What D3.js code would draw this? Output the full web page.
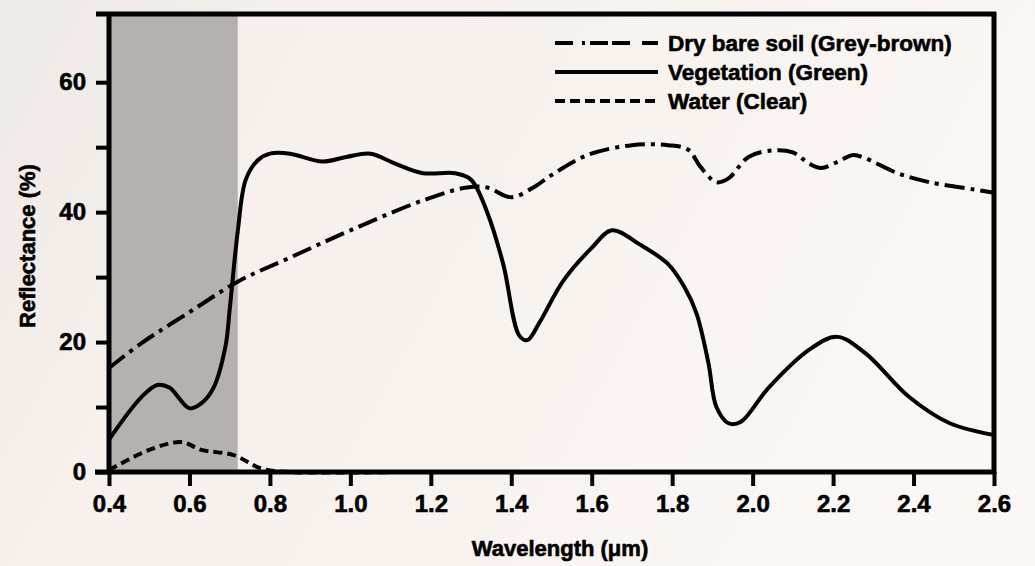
<!DOCTYPE html>
<html>
<head>
<meta charset="utf-8">
<script src="https://cdn.jsdelivr.net/npm/d3@7"></script>
<style>
  body { margin: 0; background: #f7f1ee; }
  text { font-family: "Liberation Sans", Arial, Helvetica, sans-serif; font-weight: bold; fill: #000; stroke: #000; stroke-width: 0.6px; }
</style>
</head>
<body>
<div id="wrapper"></div>
<script>
// DATA
const soilWavelength = [0.40, 0.48, 0.60, 0.72, 0.85, 1.00, 1.18, 1.29, 1.34, 1.40, 1.46, 1.50, 1.59, 1.70, 1.79, 1.84, 1.87, 1.91, 1.94, 1.99, 2.05, 2.10, 2.14, 2.17, 2.21, 2.25, 2.28, 2.36, 2.44, 2.55, 2.60]
const soilReflectance = [16, 19.8, 24.6, 29.3, 33, 37.2, 41.8, 43.8, 43.8, 42.3, 44, 45.7, 48.8, 50.3, 50.3, 49.6, 47, 44.6, 45.2, 48.5, 49.5, 49.2, 47.5, 46.8, 47.7, 48.8, 48.3, 46, 44.6, 43.5, 43]

const vegWavelength = [0.40, 0.48, 0.52, 0.55, 0.60, 0.63, 0.66, 0.69, 0.70, 0.72, 0.74, 0.77, 0.80, 0.85, 0.93, 0.99, 1.05, 1.11, 1.18, 1.26, 1.30, 1.34, 1.38, 1.42, 1.44, 1.47, 1.53, 1.60, 1.65, 1.72, 1.79, 1.83, 1.86, 1.89, 1.91, 1.94, 1.97, 2.04, 2.14, 2.21, 2.28, 2.39, 2.49, 2.60]
const vegReflectance = [5, 11.5, 13.4, 13, 9.8, 10.6, 13, 19.5, 25, 37, 45, 48, 49, 49, 47.8, 48.5, 49, 47.5, 46, 46, 45, 40, 32, 21, 20.3, 23, 29.5, 34.5, 37.2, 35, 32, 28.5, 24.5, 16.8, 10, 7.5, 7.7, 13, 18.8, 20.8, 18.3, 11.5, 7.5, 5.7]

const waterWavelength = [0.40, 0.50, 0.58, 0.63, 0.71, 0.78, 0.85, 1.12]
const waterReflectance = [0.3, 3.4, 4.6, 3.4, 2.6, 0.5, 0, 0]

const visibleBand = [0.4, 0.72]

const xTickValues = [0.4, 0.6, 0.8, 1.0, 1.2, 1.4, 1.6, 1.8, 2.0, 2.2, 2.4, 2.6]
const yTickValues = [0, 10, 20, 30, 40, 50, 60]
const yTickLabels = ["0", "", "20", "", "40", "", "60"]

const legendLabels = ["Dry bare soil (Grey-brown)", "Vegetation (Green)", "Water (Clear)"]

function drawChart() {

    let dimensions = {
        width: 1035,
        height: 566,
        left: 109,
        right: 994,
        top: 14,
        bottom: 472
    }

    const wrapper = d3.select('#wrapper')
        .append('svg')
        .attr('width', dimensions.width)
        .attr('height', dimensions.height)

    // soft paper background
    const grad = wrapper.append('defs').append('linearGradient')
        .attr('id', 'bg')
        .attr('x1', '0').attr('x2', '1').attr('y1', '0').attr('y2', '0.3')
    grad.append('stop').attr('offset', '0').attr('stop-color', '#ede9e6')
    grad.append('stop').attr('offset', '0.3').attr('stop-color', '#f7f0ec')
    grad.append('stop').attr('offset', '1').attr('stop-color', '#fbf7f4')

    wrapper.append('rect')
        .attr('width', dimensions.width)
        .attr('height', dimensions.height)
        .attr('fill', 'url(#bg)')

    // SCALES
    const xScale = d3.scaleLinear()
        .domain([0.4, 2.6])
        .range([dimensions.left, dimensions.right])

    const yScale = d3.scaleLinear()
        .domain([0, 70.5])
        .range([dimensions.bottom, dimensions.top])

    // visible band shading
    wrapper.append('rect')
        .attr('x', xScale(visibleBand[0]))
        .attr('y', yScale(70.5))
        .attr('width', xScale(visibleBand[1]) - xScale(visibleBand[0]))
        .attr('height', yScale(0) - yScale(70.5))
        .attr('fill', '#b5b1ae')

    // LINES
    const lineGenerator = d3.line()
        .x(d => xScale(d[0]))
        .y(d => yScale(d[1]))
        .curve(d3.curveCatmullRom.alpha(0.5))

    const series = [
        { wl: soilWavelength, val: soilReflectance, dash: '20,6,4,6' },
        { wl: vegWavelength, val: vegReflectance, dash: null },
        { wl: waterWavelength, val: waterReflectance, dash: '9,5' }
    ]

    series.forEach(s => {
        wrapper.append('path')
            .attr('d', lineGenerator(d3.zip(s.wl, s.val)))
            .attr('fill', 'none')
            .attr('stroke', '#000')
            .attr('stroke-width', 4)
            .attr('stroke-linejoin', 'round')
            .attr('stroke-dasharray', s.dash)
    })

    // AXES
    const yAxis = d3.axisLeft(yScale)
        .tickValues(yTickValues)
        .tickSize(13)
        .tickPadding(10)
        .tickFormat((d, i) => yTickLabels[i])

    wrapper.append('g')
        .attr('transform', `translate(${dimensions.left},0)`)
        .call(yAxis)

    const xAxis = d3.axisBottom(xScale)
        .tickValues(xTickValues)
        .tickSize(14)
        .tickPadding(9)
        .tickFormat(d3.format('.1f'))

    wrapper.append('g')
        .attr('transform', `translate(0,${dimensions.bottom})`)
        .call(xAxis)

    wrapper.selectAll('.domain').remove()
    wrapper.selectAll('.tick line')
        .attr('stroke', '#000')
        .attr('stroke-width', 4)
    wrapper.selectAll('.tick text')
        .style('font-size', '24px')
        .attr('fill', '#000')

    // frame (thick black border)
    const frame = [
        [[dimensions.left - 14, dimensions.bottom], [dimensions.right + 2, dimensions.bottom]],
        [[dimensions.left, dimensions.top - 2], [dimensions.left, dimensions.bottom + 2]],
        [[dimensions.left - 13, dimensions.top], [dimensions.right + 2, dimensions.top]],
        [[dimensions.right, dimensions.top - 2], [dimensions.right, dimensions.bottom + 2]]
    ]
    wrapper.selectAll('.frame')
        .data(frame)
        .enter().append('line')
        .attr('class', 'frame')
        .attr('x1', d => d[0][0]).attr('y1', d => d[0][1])
        .attr('x2', d => d[1][0]).attr('y2', d => d[1][1])
        .attr('stroke', '#000')
        .attr('stroke-width', 5)

    // axis titles
    wrapper.append('text')
        .attr('transform', `translate(35,246) rotate(-90)`)
        .attr('text-anchor', 'middle')
        .style('font-size', '22px')
        .text('Reflectance (%)')

    wrapper.append('text')
        .attr('x', 560)
        .attr('y', 556)
        .attr('text-anchor', 'middle')
        .style('font-size', '22px')
        .text('Wavelength (μm)')

    // LEGEND
    const legendDash = ['18,9,3,5,18,4,18,12,16', null, '10,5']
    const legend = wrapper.append('g')
        .attr('transform', 'translate(555,43)')

    legendLabels.forEach((label, i) => {
        const row = legend.append('g')
            .attr('transform', `translate(0,${i * 29})`)
        row.append('line')
            .attr('x1', 0).attr('x2', 103)
            .attr('stroke', '#000')
            .attr('stroke-width', 4)
            .attr('stroke-dasharray', legendDash[i])
        row.append('text')
            .attr('x', 113)
            .attr('y', 8)
            .style('font-size', '22.5px')
            .text(label)
    })
}
drawChart()
</script>
</body>
</html>
